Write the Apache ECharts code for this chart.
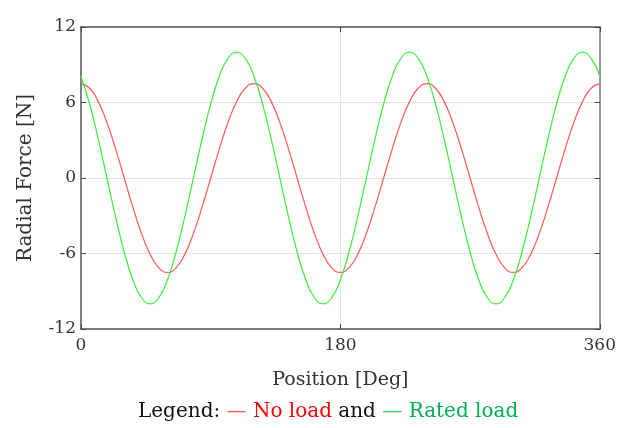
<!DOCTYPE html>
<html><head><meta charset="utf-8">
<script src="https://cdn.jsdelivr.net/npm/echarts@6/dist/echarts.min.js"></script>
<style>html,body{margin:0;padding:0;background:#fff}#c{width:619px;height:428px}</style>
</head><body><div id="c"></div>
<script>
const positions = [0,6,12,18,24,30,36,42,48,54,60,66,72,78,84,90,96,102,108,114,
  120,126,132,138,144,150,156,162,168,174,180,186,192,198,204,210,216,222,228,234,
  240,246,252,258,264,270,276,282,288,294,300,306,312,318,324,330,336,342,348,354,360];
const noLoad = [7.5,7.13,6.07,4.41,2.32,0,-2.32,-4.41,-6.07,-7.13,-7.5,-7.13,-6.07,-4.41,-2.32,0,2.32,4.41,6.07,7.13,
  7.5,7.13,6.07,4.41,2.32,0,-2.32,-4.41,-6.07,-7.13,-7.5,-7.13,-6.07,-4.41,-2.32,0,2.32,4.41,6.07,7.13,
  7.5,7.13,6.07,4.41,2.32,0,-2.32,-4.41,-6.07,-7.13,-7.5,-7.13,-6.07,-4.41,-2.32,0,2.32,4.41,6.07,7.13,7.5];
const ratedLoad = [8.09,5.88,3.09,0,-3.09,-5.88,-8.09,-9.51,-10,-9.51,-8.09,-5.88,-3.09,0,3.09,5.88,8.09,9.51,10,9.51,
  8.09,5.88,3.09,0,-3.09,-5.88,-8.09,-9.51,-10,-9.51,-8.09,-5.88,-3.09,0,3.09,5.88,8.09,9.51,10,9.51,
  8.09,5.88,3.09,0,-3.09,-5.88,-8.09,-9.51,-10,-9.51,-8.09,-5.88,-3.09,0,3.09,5.88,8.09,9.51,10,9.51,8.09];
const xRange = [0, 360], xStep = 180;
const yRange = [-12, 12], yStep = 6;
const xName = 'Position [Deg]';
const yName = 'Radial Force [N]';
const seriesNames = ['No load', 'Rated load'];

const FONT = 'DejaVu Serif';
const chart = echarts.init(document.getElementById('c'), null, {renderer: 'canvas'});
const pair = (xs, ys) => xs.map((x, i) => [x, ys[i]]);
const tickStyle = {show: true, inside: true, length: 5, lineStyle: {color: '#444', width: 1}};
chart.setOption({
  animation: false,
  backgroundColor: '#fff',
  grid: {left: 81, right: 16, top: 27, bottom: 99},
  xAxis: [{
    type: 'value', min: xRange[0], max: xRange[1], interval: xStep, position: 'bottom',
    axisLine: {show: true, onZero: false, lineStyle: {color: '#555', width: 1.5}},
    axisTick: tickStyle,
    axisLabel: {color: '#333', fontFamily: FONT, fontSize: 17, margin: 8},
    splitLine: {show: true, lineStyle: {color: '#e4e4e4', width: 1}},
    name: xName, nameLocation: 'middle', nameGap: 42,
    nameTextStyle: {color: '#333', fontFamily: FONT, fontSize: 19}
  }, {
    type: 'value', min: xRange[0], max: xRange[1], interval: xStep, position: 'top',
    axisLine: {show: true, onZero: false, lineStyle: {color: '#555', width: 1.5}},
    axisTick: tickStyle, axisLabel: {show: false}, splitLine: {show: false}
  }],
  yAxis: [{
    type: 'value', min: yRange[0], max: yRange[1], interval: yStep, position: 'left',
    axisLine: {show: true, onZero: false, lineStyle: {color: '#808080', width: 2}},
    axisTick: tickStyle,
    axisLabel: {color: '#333', fontFamily: FONT, fontSize: 17, margin: 5},
    splitLine: {show: true, lineStyle: {color: '#e4e4e4', width: 1}},
    name: yName, nameLocation: 'middle', nameGap: 45, nameRotate: 90,
    nameTextStyle: {color: '#333', fontFamily: FONT, fontSize: 20}
  }, {
    type: 'value', min: yRange[0], max: yRange[1], interval: yStep, position: 'right',
    axisLine: {show: true, onZero: false, lineStyle: {color: '#999', width: 2}},
    axisTick: tickStyle, axisLabel: {show: false}, splitLine: {show: false}
  }],
  graphic: [{
    type: 'text', left: 138, top: 402,
    style: {
      text: '{k|Legend: }{r|—}{rt| No load}{k| and }{g|—}{gt| Rated load}',
      rich: {
        k: {fontFamily: FONT, fontSize: 20, fill: '#111'},
        r: {fontFamily: FONT, fontSize: 20, fill: '#ff5a5a'},
        rt: {fontFamily: FONT, fontSize: 20, fill: '#ff0000'},
        g: {fontFamily: FONT, fontSize: 20, fill: '#33cc66'},
        gt: {fontFamily: FONT, fontSize: 20, fill: '#00b050'}
      }
    }
  }],
  series: [{
    name: seriesNames[0], type: 'line', smooth: true, symbol: 'none',
    data: pair(positions, noLoad),
    lineStyle: {color: '#ff5a5a', width: 1.2}, z: 3
  }, {
    name: seriesNames[1], type: 'line', smooth: true, symbol: 'none',
    data: pair(positions, ratedLoad),
    lineStyle: {color: '#3cf03c', width: 1.2}, z: 4
  }]
});
</script>
</body></html>
